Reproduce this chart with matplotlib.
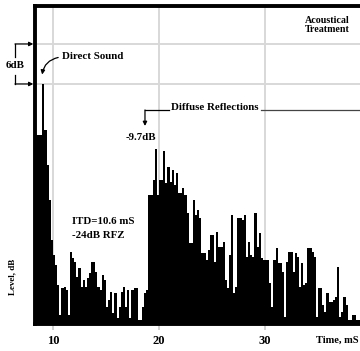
import matplotlib
matplotlib.use('Agg')
import matplotlib.pyplot as plt
import numpy as np

# energy-time curve, one bar every 0.2 ms starting at 8.4 ms
t_start = 8.4
dt = 0.2
levels = [
    -7.7, -7.7, -7.7, 0.0, -6.9, -12.2, -17.4, -23.4, -25.7, -27.2,
    -30.2, -34.7, -30.6, -30.5, -30.9, -34.7, -25.2, -26.1, -26.7, -29.0,
    -27.6, -30.5, -29.4, -30.5, -29.1, -28.4, -26.7, -26.7, -28.2, -30.5,
    -30.9, -28.7, -29.4, -33.5, -32.4, -31.2, -34.4, -31.4, -35.1, -33.5,
    -31.2, -30.5, -33.5, -30.9, -35.1, -30.9, -30.6, -30.6, -35.4, -35.4,
    -33.5, -31.4, -30.9, -16.7, -16.7, -14.4, -9.7, -16.7, -14.4, -14.4,
    -10.1, -14.9, -12.5, -14.7, -12.9, -15.2, -13.4, -16.4, -16.4, -15.6,
    -16.7, -19.4, -23.9, -23.9, -17.4, -19.7, -18.9, -20.1, -25.4, -25.4,
    -26.4, -24.9, -22.7, -22.7, -26.7, -22.2, -24.5, -24.5, -23.7, -29.4,
    -30.6, -25.7, -19.7, -31.4, -30.5, -20.1, -20.1, -20.4, -19.7, -26.0,
    -23.7, -25.7, -26.0, -19.4, -24.5, -22.4, -26.1, -26.4, -26.4, -26.4,
    -29.9, -33.5, -26.4, -24.6, -26.9, -26.9, -28.2, -35.0, -26.7, -25.2,
    -25.2, -28.2, -25.4, -26.0, -30.5, -26.9, -30.2, -29.9, -24.6, -24.6,
    -25.2, -26.0, -35.0, -30.6, -30.6, -33.2, -34.2, -31.4, -32.7, -32.7,
    -32.4, -32.0, -27.5, -35.0, -34.2, -32.0, -33.2, -35.4, -35.4, -34.7,
    -34.7, -35.4, -35.4,
]
x_ticks = [10, 20, 30]
y_grid = [0, 6]
floor_db = -36

times = t_start + dt * np.arange(len(levels))
heights = np.array(levels) - floor_db

plt.rcParams['font.family'] = 'Liberation Serif'
plt.rcParams['font.weight'] = 'bold'

fig = plt.figure(figsize=(3.6, 3.51), dpi=100)
ax = fig.add_axes([0.097, 0.077, 0.903, 0.906])

for t in x_ticks:
    ax.axvline(t, color='#d8d8d8', lw=1.4, zorder=0)
for g in y_grid:
    ax.axhline(g, color='#d8d8d8', lw=1.4, zorder=0)

ax.bar(times, heights, bottom=floor_db, width=dt, align='edge',
       color='black', linewidth=0, zorder=2)

ax.set_xlim(8.3, 38.96)
ax.set_ylim(floor_db, 11.7)
ax.set_xticks(x_ticks)
ax.set_yticks([])
ax.tick_params(axis='x', length=4, width=1.2, color='#c8c8c8', pad=4,
               labelsize=9)
for lab in ax.get_xticklabels():
    lab.set_fontweight('bold')

for s in ['left', 'top', 'bottom']:
    ax.spines[s].set_linewidth(2.8)
ax.spines['right'].set_visible(False)

fs = 7.8
# direct sound
ax.text(10.85, 4.05, 'Direct Sound', fontsize=fs, va='center', ha='left')
ax.annotate('', xy=(8.95, 1.0), xytext=(10.75, 4.05),
            arrowprops=dict(arrowstyle='-|>', lw=0.9, color='black',
                            mutation_scale=6,
                            connectionstyle='arc3,rad=0.4'))

# diffuse reflections
ax.text(21.1, -3.6, 'Diffuse Reflections', fontsize=fs, va='center', ha='left')
ax.plot([18.68, 20.95], [-3.9, -3.9], color='black', lw=0.9)
ax.annotate('', xy=(18.68, -6.3), xytext=(18.68, -3.9),
            arrowprops=dict(arrowstyle='-|>', lw=0.9, color='black',
                            mutation_scale=6, shrinkA=0, shrinkB=0))
ax.plot([29.6, 39.0], [-3.9, -3.9], color='#444444', lw=0.9)
ax.text(18.3, -8.1, '-9.7dB', fontsize=fs, va='center', ha='center')

ax.text(11.8, -20.7, 'ITD=10.6 mS', fontsize=fs, va='center', ha='left')
ax.text(11.8, -22.7, '-24dB RFZ', fontsize=fs, va='center', ha='left')

ax.text(35.85, 8.85, 'Acoustical\nTreatment', fontsize=7.2, va='center',
        ha='center', linespacing=1.1)

# 6 dB bracket left of the axis
bx = 6.42
ax.plot([bx, bx], [6, 4.0], color='black', lw=0.9, clip_on=False)
ax.plot([bx, bx], [1.4, 0], color='black', lw=0.9, clip_on=False)
for g in y_grid:
    ax.annotate('', xy=(8.15, g), xytext=(bx, g), annotation_clip=False,
                arrowprops=dict(arrowstyle='-|>', lw=0.9, color='black',
                                mutation_scale=6, shrinkA=0, shrinkB=0))
ax.text(6.45, 2.7, '6dB', fontsize=fs, va='center', ha='center',
        clip_on=False)

fig.text(0.936, 0.031, 'Time, mS', fontsize=7.6, ha='center', va='center')
fig.text(0.035, 0.21, 'Level, dB', fontsize=6.5, ha='center', va='center',
         rotation=90)

fig.savefig('out.png', dpi=100)
